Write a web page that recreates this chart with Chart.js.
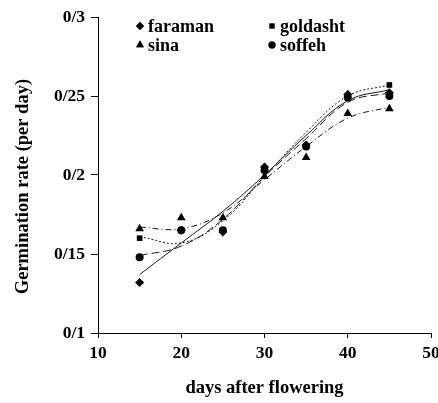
<!DOCTYPE html>
<html>
<head>
<meta charset="utf-8">
<script src="https://cdn.jsdelivr.net/npm/chart.js@4"></script>
<style>
  html, body { margin: 0; padding: 0; background: #fff; }
  #wrap { width: 438px; height: 403px; }
</style>
</head>
<body>
<div id="wrap"><canvas id="myChart" width="438" height="403"></canvas></div>
<script>
// days after flowering
const days = [15, 20, 25, 30, 35, 40, 45];

// measured germination rate
const faraman  = [0.132, 0.165, 0.164, 0.205, 0.219, 0.251, 0.252];
const goldasht = [0.160, 0.165, 0.165, 0.203, 0.218, 0.250, 0.257];
const sina     = [0.166, 0.173, 0.173, 0.199, 0.211, 0.239, 0.242];
const soffeh   = [0.148, 0.165, 0.165, 0.203, 0.218, 0.249, 0.250];

// trend lines at the same days
const faramanFit  = [0.137, 0.157, 0.177, 0.200, 0.225, 0.247, 0.254];
const goldashtFit = [0.161, 0.157, 0.171, 0.199, 0.227, 0.250, 0.257];
const sinaFit     = [0.167, 0.166, 0.176, 0.197, 0.218, 0.236, 0.243];
const soffehFit   = [0.149, 0.155, 0.172, 0.199, 0.223, 0.246, 0.252];

const yTickLabels = ['0/1', '0/15', '0/2', '0/25', '0/3'];
const xTickLabels = ['10', '20', '30', '40', '50'];

const serif = "'Liberation Serif', 'Times New Roman', serif";
const ink = '#000';

function pts(ys) {
  return days.map((d, i) => ({ x: d, y: ys[i] }));
}

function markerSet(label, ys, style, radius) {
  return {
    label: label,
    data: pts(ys),
    showLine: false,
    pointStyle: style,
    pointRadius: radius,
    pointBackgroundColor: ink,
    pointBorderColor: ink,
    pointBorderWidth: 0,
    inLegend: true,
    order: 0
  };
}

function fitSet(ys, dash) {
  return {
    label: '',
    data: pts(ys),
    showLine: true,
    borderColor: '#1a1a1a',
    borderWidth: 1,
    borderDash: dash,
    tension: 0.4,
    pointRadius: 0,
    fill: false,
    order: 1
  };
}

// 2x2 legend in the upper left of the plot
const gridLegend = {
  id: 'gridLegend',
  afterDraw(chart) {
    const ctx = chart.ctx;
    const cols = [140, 272];
    const rows = [26, 45];
    const items = chart.data.datasets.filter(ds => ds.inLegend);
    ctx.save();
    ctx.font = 'bold 18px ' + serif;
    ctx.textBaseline = 'middle';
    items.forEach((ds, i) => {
      const x = cols[i % 2];
      const y = rows[Math.floor(i / 2)];
      ctx.fillStyle = ink;
      ctx.strokeStyle = ink;
      ctx.lineWidth = 0.01;
      Chart.helpers.drawPoint(ctx, { pointStyle: ds.pointStyle, radius: ds.pointRadius - 0.5, borderWidth: 0 }, x, y);
      ctx.fill();
      ctx.fillText(ds.label, x + 8, y + 1);
    });
    ctx.restore();
  }
};

let chart = new Chart('myChart', {
  type: 'scatter',
  data: {
    datasets: [
      markerSet('faraman', faraman, 'rectRot', 4.5),
      markerSet('goldasht', goldasht, 'rect', 4),
      markerSet('sina', sina, 'triangle', 5),
      markerSet('soffeh', soffeh, 'circle', 4),
      fitSet(faramanFit, []),
      fitSet(goldashtFit, [2, 2]),
      fitSet(sinaFit, [6, 3, 1, 3]),
      fitSet(soffehFit, [8, 4])
    ]
  },
  plugins: [gridLegend],
  options: {
    responsive: false,
    animation: false,
    layout: { padding: { left: 0, top: 17, right: 7, bottom: 0 } },
    scales: {
      x: {
        type: 'linear',
        min: 10,
        max: 50,
        afterFit(scale) {
          scale.height = 70;
          scale.paddingLeft = 0;
          scale.paddingRight = 0;
        },
        ticks: {
          stepSize: 10,
          color: ink,
          padding: 5,
          font: { family: serif, size: 17.5, weight: 'bold' },
          callback: (v, i) => xTickLabels[i]
        },
        grid: { display: true, drawOnChartArea: false, drawTicks: true, tickLength: 5, color: ink },
        border: { display: true, color: ink, width: 1 },
        title: {
          display: true,
          text: 'days after flowering',
          color: ink,
          padding: { top: 0, bottom: 4 },
          font: { family: serif, size: 18.5, weight: 'bold' }
        }
      },
      y: {
        min: 0.1,
        max: 0.3,
        afterFit(scale) { scale.width = 98; },
        ticks: {
          stepSize: 0.05,
          color: ink,
          padding: 6,
          font: { family: serif, size: 17.5, weight: 'bold' },
          callback: (v, i) => yTickLabels[i]
        },
        grid: { display: true, drawOnChartArea: false, drawTicks: true, tickLength: 7, color: ink },
        border: { display: true, color: ink, width: 1 },
        title: {
          display: true,
          text: 'Germination rate (per day)     ',
          color: ink,
          padding: { top: 12, bottom: 0 },
          font: { family: serif, size: 18.5, weight: 'bold' }
        }
      }
    },
    plugins: {
      legend: { display: false },
      tooltip: { enabled: false },
      title: { display: false }
    }
  }
});
</script>
</body>
</html>
